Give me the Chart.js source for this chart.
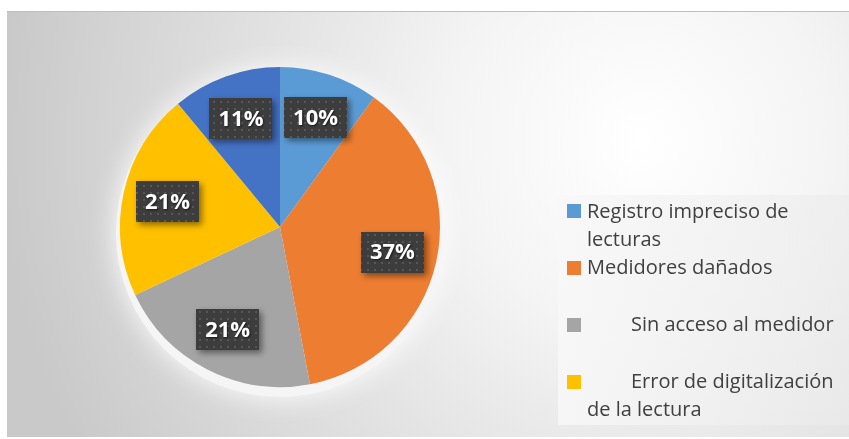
<!DOCTYPE html>
<html>
<head>
<meta charset="utf-8">
<script src="https://cdn.jsdelivr.net/npm/chart.js@4.4.1/dist/chart.umd.min.js"></script>
<style>
  html,body{margin:0;padding:0;background:#fff;}
  #wrap{position:relative;width:849px;height:439px;}
  canvas{display:block;}
</style>
</head>
<body>
<div id="wrap"><canvas id="c" width="849" height="439"></canvas></div>
<script>
// ---- Data ----
const categories = ["Registro impreciso de lecturas", "Medidores dañados", "Sin acceso al medidor", "Error de digitalización de la lectura", ""];
const values = [10, 37, 21, 21, 11];
const valueLabels = ["10%", "37%", "21%", "21%", "11%"];
const colors = ["#5B9BD5", "#ED7D31", "#A5A5A5", "#FFC000", "#4472C4"];
// legend text lines (as wrapped in the original), first-line indent flag
const legendLines = [
  ["Registro impreciso de", "lecturas"],
  ["Medidores dañados"],
  ["Sin acceso al medidor"],
  ["Error de digitalización", "de la lectura"]
];
const legendIndent = [false, false, true, true];

// ---- Background plugin ----
const bgPlugin = {
  id: 'bg',
  beforeDraw(chart) {
    const ctx = chart.ctx;
    ctx.save();
    ctx.fillStyle = '#ffffff';
    ctx.fillRect(0, 0, chart.width, chart.height);
    const x0 = 7, y0 = 11, w = 842, h = 426;
    const g = ctx.createRadialGradient(640, 140, 0, 640, 140, 640);
    g.addColorStop(0, '#ffffff');
    g.addColorStop(0.3, '#f4f4f4');
    g.addColorStop(0.7, '#dcdcdc');
    g.addColorStop(1, '#c9c9c9');
    ctx.fillStyle = g;
    ctx.fillRect(x0, y0, w, h);
    ctx.strokeStyle = '#bfbfbf';
    ctx.lineWidth = 1;
    ctx.beginPath();
    ctx.moveTo(x0, y0 + 0.5); ctx.lineTo(x0 + w, y0 + 0.5);
    ctx.stroke();
    // legend box
    const lg = ctx.createLinearGradient(558, 0, 849, 0);
    lg.addColorStop(0, 'rgba(248,248,248,0.85)');
    lg.addColorStop(1, 'rgba(235,235,235,0.6)');
    ctx.fillStyle = lg;
    ctx.fillRect(558, 195, 291, 230);
    ctx.restore();
  }
};

// ---- Pie glow ----
const glowPlugin = {
  id: 'glow',
  beforeDatasetsDraw(chart) {
    const arc = chart.getDatasetMeta(0).data[0];
    const ctx = chart.ctx;
    ctx.save();
    ctx.shadowColor = 'rgba(255,255,255,0.95)';
    ctx.shadowBlur = 28;
    ctx.fillStyle = 'rgba(245,245,245,1)';
    ctx.beginPath();
    ctx.arc(arc.x, arc.y + 6, arc.outerRadius + 4, 0, Math.PI * 2);
    ctx.fill();
    ctx.restore();
  }
};

// ---- Data labels ----
function makePattern(ctx) {
  const p = document.createElement('canvas');
  p.width = 7; p.height = 7;
  const pc = p.getContext('2d');
  pc.fillStyle = '#3d3d3d';
  pc.fillRect(0, 0, 7, 7);
  pc.fillStyle = '#575757';
  pc.fillRect(3, 3, 2, 2);
  return ctx.createPattern(p, 'repeat');
}
const labelPlugin = {
  id: 'vlabels',
  afterDatasetsDraw(chart) {
    const ctx = chart.ctx;
    const meta = chart.getDatasetMeta(0);
    const pat = makePattern(ctx);
    meta.data.forEach((arc, i) => {
      const mid = (arc.startAngle + arc.endAngle) / 2;
      const r = arc.outerRadius * 0.72;
      const cx = arc.x + Math.cos(mid) * r;
      const cy = arc.y + Math.sin(mid) * r;
      const bw = 63, bh = 41;
      ctx.save();
      ctx.shadowColor = 'rgba(0,0,0,0.45)';
      ctx.shadowBlur = 6;
      ctx.shadowOffsetX = 3;
      ctx.shadowOffsetY = 3;
      ctx.fillStyle = pat;
      ctx.fillRect(Math.round(cx - bw / 2), Math.round(cy - bh / 2), bw, bh);
      ctx.restore();
      ctx.save();
      ctx.fillStyle = '#ffffff';
      ctx.font = 'bold 22px "Open Sans", sans-serif';
      ctx.textAlign = 'center';
      ctx.textBaseline = 'middle';
      ctx.shadowColor = 'rgba(0,0,0,0.6)';
      ctx.shadowBlur = 2;
      ctx.shadowOffsetX = 1; ctx.shadowOffsetY = 1;
      ctx.fillText(valueLabels[i], cx, cy + 1);
      ctx.restore();
    });
  }
};

// ---- Legend ----
const legendPlugin = {
  id: 'customLegend',
  afterDraw(chart) {
    const ctx = chart.ctx;
    const sq = [204, 261, 318, 375];
    const baselines = [[218, 246], [274], [331], [388, 416]];
    ctx.save();
    ctx.font = '20px "Open Sans", sans-serif';
    ctx.fillStyle = '#404040';
    ctx.textBaseline = 'alphabetic';
    legendLines.forEach((lines, i) => {
      ctx.fillStyle = colors[i];
      ctx.fillRect(567, sq[i], 14, 14);
      ctx.fillStyle = '#404040';
      lines.forEach((t, j) => {
        const x = (j === 0 && legendIndent[i]) ? 631 : 587;
        ctx.fillText(t, x, baselines[i][j]);
      });
    });
    ctx.restore();
  }
};

new Chart(document.getElementById('c'), {
  type: 'pie',
  data: {
    labels: categories,
    datasets: [{
      data: values,
      backgroundColor: colors,
      borderWidth: 0
    }]
  },
  options: {
    responsive: false,
    animation: false,
    layout: { padding: { left: 120, right: 409, top: 67, bottom: 52 } },
    plugins: {
      legend: { display: false },
      tooltip: { enabled: false }
    }
  },
  plugins: [bgPlugin, glowPlugin, labelPlugin, legendPlugin]
});
</script>
</body>
</html>
